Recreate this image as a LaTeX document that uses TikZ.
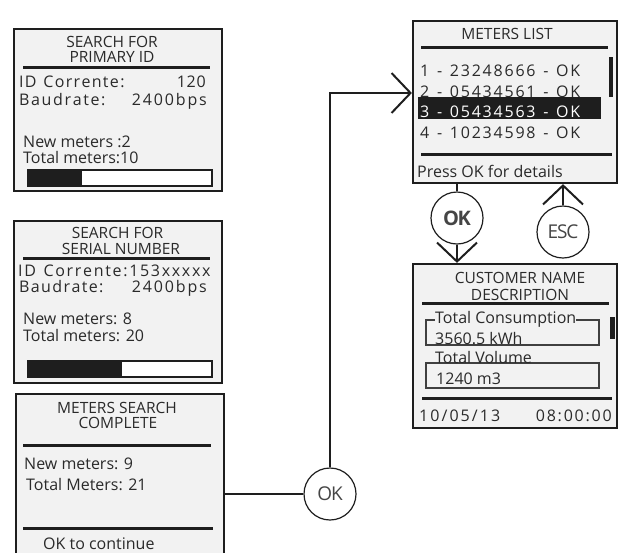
\documentclass[tikz,border=0pt]{standalone}
\usepackage{fontspec}
\setmainfont{Open Sans}
\newfontfamily\tightfont[LetterSpace=-6]{Open Sans}
\usetikzlibrary{arrows.meta}
\definecolor{ink}{HTML}{1E1E1E}
\definecolor{scr}{HTML}{F2F2F2}
\definecolor{gtxt}{HTML}{454545}
\definecolor{tx}{HTML}{2A2A2A}
% tracked text: #1 = target width, #2 = text (spaces written as ~)
\newlength\trkw \newdimen\trkk \newcount\trkn
\def\trkend{\trkend}
\newcommand\tracked[2]{\settowidth\trkw{#2}\trkn=0 \trkcount#2\trkend\relax
  \advance\trkn by -1
  \trkk=#1\relax\advance\trkk by -\trkw\divide\trkk by \trkn
  \trkfirst#2\trkend}
\def\trkcount#1{\ifx#1\trkend\else\advance\trkn by 1 \expandafter\trkcount\fi}
\def\trkfirst#1{#1\trkdo}
\def\trkdo#1{\ifx#1\trkend\else\kern\trkk #1\expandafter\trkdo\fi}
\tikzset{
  screen/.style={draw=ink, line width=2.2pt, fill=scr, rectangle, inner sep=0pt},
  rule/.style={draw=ink, line width=3pt},
  txt/.style={anchor=base west, inner sep=0pt, text=tx, font=\fontsize{16}{16}\selectfont},
  ttl/.style={anchor=base, inner sep=0pt, text=tx, font=\fontsize{15.5}{14}\selectfont},
  sp/.style={txt},
  spr/.style={txt, anchor=base east},
  btn/.style={circle, draw=ink, line width=1.2pt, fill=white, minimum size=52pt, inner sep=0pt, text=gtxt, font=\tightfont\fontsize{19}{19}\selectfont},
  conn/.style={draw=ink, line width=2pt},
  chev/.style={-{Straight Barb[length=19pt,width=40pt]}},
  grp/.style={draw=ink!85, line width=1.2pt},
  bar/.style={draw=ink, line width=2.5pt, fill=white}
}
\begin{document}
\begin{tikzpicture}[x=1pt,y=-1pt]
\useasboundingbox (0,0) rectangle (618,552);
\clip (0,0) rectangle (618,552);

% ---------- screen 1
\node[screen, minimum width=208pt, minimum height=162pt] (s1) at (118,110) {};
\node[ttl] (s1t1) at (112,47.5) {SEARCH FOR};
\node[ttl] (s1t2) at (112,62) {PRIMARY ID};
\draw[rule] (23,67) -- (210,67);
\node[sp] (s1a) at (19,87) {\tracked{105pt}{ID~Corrente:}};
\node[spr] (s1b) at (206,87) {\tracked{29pt}{120}};
\node[sp] (s1c) at (19,105) {\tracked{86pt}{Baudrate:}};
\node[spr] (s1d) at (207,105) {\tracked{75pt}{2400bps}};
\node[txt] (s1e) at (23,147) {New meters :2};
\node[txt] (s1f) at (23,163) {Total meters:10};
\draw[bar] (28,170) rectangle (212,186);
\fill[ink] (28,170) rectangle (82,186);

% ---------- screen 2
\node[screen, minimum width=208pt, minimum height=162pt] (s2) at (118,302) {};
\node[ttl] (s2t1) at (117.5,238) {SEARCH FOR};
\node[ttl] (s2t2) at (121,254.5) {SERIAL NUMBER};
\draw[rule] (23,258) -- (210,258);
\node[sp] (s2a) at (18,276) {\tracked{192pt}{ID~Corrente:153xxxxx}};
\node[sp] (s2c) at (19,292) {\tracked{84pt}{Baudrate:}};
\node[spr] (s2d) at (207,292) {\tracked{75pt}{2400bps}};
\node[txt] (s2e) at (23,324) {New meters: 8};
\node[txt] (s2f) at (23,341) {Total meters: 20};
\draw[bar] (28,361) rectangle (212,377);
\fill[ink] (28,361) rectangle (122,377);

% ---------- screen 3
\node[screen, minimum width=208pt, minimum height=166pt] (s3) at (120,477) {};
\node[ttl] (s3t1) at (117,413) {METERS SEARCH};
\node[ttl] (s3t2) at (118,428.5) {COMPLETE};
\draw[rule] (23,445) -- (211,445);
\node[txt] (s3a) at (24,469) {New meters: 9};
\node[txt] (s3b) at (26,490) {Total Meters: 21};
\draw[rule] (23,528) -- (213,528);
\node[txt] (s3c) at (43,549) {OK to continue};

% ---------- screen 4
\node[screen, minimum width=204pt, minimum height=162pt] (s4) at (515,102) {};
\node[ttl] (s4t) at (507,39.5) {METERS LIST};
\draw[rule] (421,47) -- (608,47);
\node[sp] (m1) at (420,76) {\tracked{160pt}{1~-~23248666~-~OK}};
\node[sp] (m2) at (420,97.5) {\tracked{160pt}{2~-~05434561~-~OK}};
\fill[ink] (418,97) rectangle (601,119);
\node[sp, text=white] (m3) at (420,117) {\tracked{160pt}{3~-~05434563~-~OK}};
\node[sp] (m4) at (420,138) {\tracked{160pt}{4~-~10234598~-~OK}};
\fill[ink] (609,57) rectangle (613,97);
\draw[rule] (421,154) -- (612,154);
\node[txt] (s4p) at (417,177) {Press OK for details};

% ---------- screen 5
\node[screen, minimum width=204pt, minimum height=164pt] (s5) at (515,346) {};
\node[ttl] (s5t1) at (520,283) {CUSTOMER NAME};
\node[ttl] (s5t2) at (520,300) {DESCRIPTION};
\draw[rule] (422,303) -- (609,303);
\draw[grp] (426,320) rectangle (599,345);
\draw[grp] (426,363) rectangle (599,388);
\node[txt, fill=scr] (c1) at (435,323) {Total Consumption};
\node[txt] (c2) at (435,344) {3560.5 kWh};
\node[txt] (c3) at (435,363) {Total Volume};
\node[txt] (c4) at (436,384) {1240 m3};
\fill[ink] (610,317) rectangle (615,339);
\draw[rule] (422,398) -- (612,398);
\node[sp] (d1) at (419,421) {\tracked{81pt}{10/05/13}};
\node[spr] (d2) at (612,421) {\tracked{76pt}{08:00:00}};

% ---------- buttons
\node[btn] (okA) at (330,494) {OK};
\node[btn, font=\tightfont\bfseries\fontsize{20}{20}\selectfont] (okB) at (457,218) {OK};
\node[btn] (esc) at (563,232) {ESC};

% ---------- connectors
\coordinate (bend) at (330,93);
\draw[conn] (s3.east |- okA.west) -- (okA.west);
\draw[conn,chev] (okA.north) -- (bend) -- (bend -| s4.west);
\draw[conn] (s4.south -| okB.north) -- (okB.north);
\draw[conn,chev] (okB.south) -- (okB.south |- s5.north);
\draw[conn,chev] (esc.north) -- (esc.north |- s4.south);
\end{tikzpicture}
\end{document}
